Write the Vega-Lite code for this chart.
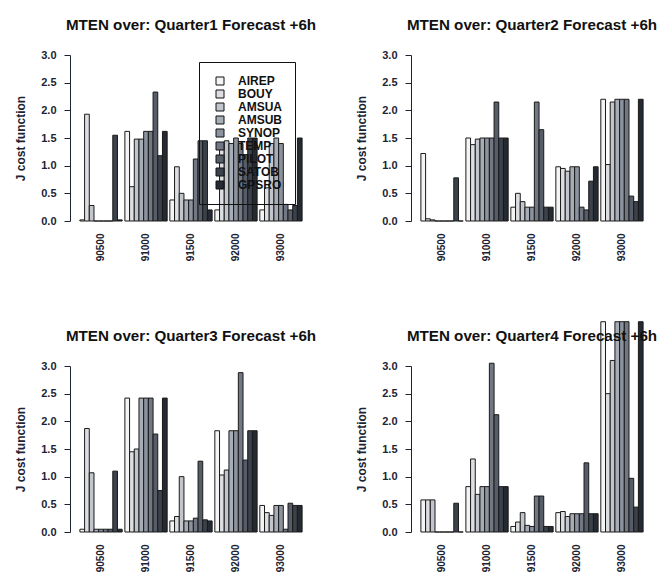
{
  "$schema": "https://vega.github.io/schema/vega-lite/v6.json",
  "background": "white",
  "padding": {"left": 14, "top": 17, "right": 0, "bottom": 0},
  "config": {
    "font": "Liberation Sans",
    "view": {"stroke": null},
    "title": {"fontSize": 15.2, "fontWeight": "bold", "color": "#111", "offset": 16, "anchor": "middle"},
    "axis": {"labelFont": "Liberation Sans", "titleFont": "Liberation Sans", "labelColor": "#1c2433", "titleColor": "#1c2433", "grid": false},
    "axisX": {"labelAngle": -90, "domain": false, "ticks": false, "labelFontSize": 10, "labelFontWeight": "bold", "labelPadding": 12, "labelBaseline": "middle", "labelAlign": "right"},
    "axisY": {"values": [0, 0.5, 1, 1.5, 2, 2.5, 3], "format": ".1f", "labelFontSize": 11, "labelFontWeight": "bold", "titleFontSize": 12, "titleFontWeight": "bold", "domainColor": "#1c2433", "tickColor": "#1c2433", "tickSize": 6, "labelPadding": 8, "titlePadding": 13},
    "bar": {"stroke": "#1a1a1a", "strokeWidth": 1},
    "range": {"category": ["#f4f4f4","#dcdee2","#c2c6cc","#a7adb6","#8c939e","#717884","#565d68","#3c424c","#242932"]}
  },
  "datasets": {
    "j": [
      {"q":"Q1","g":"90500","o":"AIREP","v":0.02},{"q":"Q1","g":"90500","o":"BOUY","v":1.93},{"q":"Q1","g":"90500","o":"AMSUA","v":0.28},{"q":"Q1","g":"90500","o":"AMSUB","v":0},{"q":"Q1","g":"90500","o":"SYNOP","v":0},{"q":"Q1","g":"90500","o":"TEMP","v":0},{"q":"Q1","g":"90500","o":"PILOT","v":0},{"q":"Q1","g":"90500","o":"SATOB","v":1.55},{"q":"Q1","g":"90500","o":"GPSRO","v":0.02},
      {"q":"Q1","g":"91000","o":"AIREP","v":1.62},{"q":"Q1","g":"91000","o":"BOUY","v":0.62},{"q":"Q1","g":"91000","o":"AMSUA","v":1.48},{"q":"Q1","g":"91000","o":"AMSUB","v":1.48},{"q":"Q1","g":"91000","o":"SYNOP","v":1.62},{"q":"Q1","g":"91000","o":"TEMP","v":1.62},{"q":"Q1","g":"91000","o":"PILOT","v":2.33},{"q":"Q1","g":"91000","o":"SATOB","v":1.18},{"q":"Q1","g":"91000","o":"GPSRO","v":1.62},
      {"q":"Q1","g":"91500","o":"AIREP","v":0.38},{"q":"Q1","g":"91500","o":"BOUY","v":0.98},{"q":"Q1","g":"91500","o":"AMSUA","v":0.5},{"q":"Q1","g":"91500","o":"AMSUB","v":0.38},{"q":"Q1","g":"91500","o":"SYNOP","v":0.38},{"q":"Q1","g":"91500","o":"TEMP","v":1.12},{"q":"Q1","g":"91500","o":"PILOT","v":1.45},{"q":"Q1","g":"91500","o":"SATOB","v":1.45},{"q":"Q1","g":"91500","o":"GPSRO","v":0.2},
      {"q":"Q1","g":"92000","o":"AIREP","v":0.2},{"q":"Q1","g":"92000","o":"BOUY","v":1.35},{"q":"Q1","g":"92000","o":"AMSUA","v":1.45},{"q":"Q1","g":"92000","o":"AMSUB","v":1.4},{"q":"Q1","g":"92000","o":"SYNOP","v":1.5},{"q":"Q1","g":"92000","o":"TEMP","v":1.4},{"q":"Q1","g":"92000","o":"PILOT","v":1.2},{"q":"Q1","g":"92000","o":"SATOB","v":1.5},{"q":"Q1","g":"92000","o":"GPSRO","v":1.5},
      {"q":"Q1","g":"93000","o":"AIREP","v":0.2},{"q":"Q1","g":"93000","o":"BOUY","v":0.6},{"q":"Q1","g":"93000","o":"AMSUA","v":1.4},{"q":"Q1","g":"93000","o":"AMSUB","v":1.5},{"q":"Q1","g":"93000","o":"SYNOP","v":1.4},{"q":"Q1","g":"93000","o":"TEMP","v":0.3},{"q":"Q1","g":"93000","o":"PILOT","v":0.2},{"q":"Q1","g":"93000","o":"SATOB","v":0.28},{"q":"Q1","g":"93000","o":"GPSRO","v":1.5},

      {"q":"Q2","g":"90500","o":"AIREP","v":1.22},{"q":"Q2","g":"90500","o":"BOUY","v":0.04},{"q":"Q2","g":"90500","o":"AMSUA","v":0.02},{"q":"Q2","g":"90500","o":"AMSUB","v":0},{"q":"Q2","g":"90500","o":"SYNOP","v":0},{"q":"Q2","g":"90500","o":"TEMP","v":0},{"q":"Q2","g":"90500","o":"PILOT","v":0},{"q":"Q2","g":"90500","o":"SATOB","v":0.78},{"q":"Q2","g":"90500","o":"GPSRO","v":0},
      {"q":"Q2","g":"91000","o":"AIREP","v":1.5},{"q":"Q2","g":"91000","o":"BOUY","v":1.38},{"q":"Q2","g":"91000","o":"AMSUA","v":1.48},{"q":"Q2","g":"91000","o":"AMSUB","v":1.5},{"q":"Q2","g":"91000","o":"SYNOP","v":1.5},{"q":"Q2","g":"91000","o":"TEMP","v":1.5},{"q":"Q2","g":"91000","o":"PILOT","v":2.15},{"q":"Q2","g":"91000","o":"SATOB","v":1.5},{"q":"Q2","g":"91000","o":"GPSRO","v":1.5},
      {"q":"Q2","g":"91500","o":"AIREP","v":0.25},{"q":"Q2","g":"91500","o":"BOUY","v":0.5},{"q":"Q2","g":"91500","o":"AMSUA","v":0.35},{"q":"Q2","g":"91500","o":"AMSUB","v":0.25},{"q":"Q2","g":"91500","o":"SYNOP","v":0.25},{"q":"Q2","g":"91500","o":"TEMP","v":2.15},{"q":"Q2","g":"91500","o":"PILOT","v":1.65},{"q":"Q2","g":"91500","o":"SATOB","v":0.25},{"q":"Q2","g":"91500","o":"GPSRO","v":0.25},
      {"q":"Q2","g":"92000","o":"AIREP","v":0.98},{"q":"Q2","g":"92000","o":"BOUY","v":0.95},{"q":"Q2","g":"92000","o":"AMSUA","v":0.9},{"q":"Q2","g":"92000","o":"AMSUB","v":0.98},{"q":"Q2","g":"92000","o":"SYNOP","v":0.98},{"q":"Q2","g":"92000","o":"TEMP","v":0.25},{"q":"Q2","g":"92000","o":"PILOT","v":0.2},{"q":"Q2","g":"92000","o":"SATOB","v":0.72},{"q":"Q2","g":"92000","o":"GPSRO","v":0.98},
      {"q":"Q2","g":"93000","o":"AIREP","v":2.2},{"q":"Q2","g":"93000","o":"BOUY","v":1.02},{"q":"Q2","g":"93000","o":"AMSUA","v":2.15},{"q":"Q2","g":"93000","o":"AMSUB","v":2.2},{"q":"Q2","g":"93000","o":"SYNOP","v":2.2},{"q":"Q2","g":"93000","o":"TEMP","v":2.2},{"q":"Q2","g":"93000","o":"PILOT","v":0.45},{"q":"Q2","g":"93000","o":"SATOB","v":0.35},{"q":"Q2","g":"93000","o":"GPSRO","v":2.2},

      {"q":"Q3","g":"90500","o":"AIREP","v":0.05},{"q":"Q3","g":"90500","o":"BOUY","v":1.87},{"q":"Q3","g":"90500","o":"AMSUA","v":1.07},{"q":"Q3","g":"90500","o":"AMSUB","v":0.05},{"q":"Q3","g":"90500","o":"SYNOP","v":0.05},{"q":"Q3","g":"90500","o":"TEMP","v":0.05},{"q":"Q3","g":"90500","o":"PILOT","v":0.05},{"q":"Q3","g":"90500","o":"SATOB","v":1.1},{"q":"Q3","g":"90500","o":"GPSRO","v":0.05},
      {"q":"Q3","g":"91000","o":"AIREP","v":2.42},{"q":"Q3","g":"91000","o":"BOUY","v":1.45},{"q":"Q3","g":"91000","o":"AMSUA","v":1.5},{"q":"Q3","g":"91000","o":"AMSUB","v":2.42},{"q":"Q3","g":"91000","o":"SYNOP","v":2.42},{"q":"Q3","g":"91000","o":"TEMP","v":2.42},{"q":"Q3","g":"91000","o":"PILOT","v":1.77},{"q":"Q3","g":"91000","o":"SATOB","v":0.75},{"q":"Q3","g":"91000","o":"GPSRO","v":2.42},
      {"q":"Q3","g":"91500","o":"AIREP","v":0.2},{"q":"Q3","g":"91500","o":"BOUY","v":0.28},{"q":"Q3","g":"91500","o":"AMSUA","v":1.0},{"q":"Q3","g":"91500","o":"AMSUB","v":0.2},{"q":"Q3","g":"91500","o":"SYNOP","v":0.2},{"q":"Q3","g":"91500","o":"TEMP","v":0.25},{"q":"Q3","g":"91500","o":"PILOT","v":1.28},{"q":"Q3","g":"91500","o":"SATOB","v":0.22},{"q":"Q3","g":"91500","o":"GPSRO","v":0.2},
      {"q":"Q3","g":"92000","o":"AIREP","v":1.83},{"q":"Q3","g":"92000","o":"BOUY","v":1.03},{"q":"Q3","g":"92000","o":"AMSUA","v":1.12},{"q":"Q3","g":"92000","o":"AMSUB","v":1.83},{"q":"Q3","g":"92000","o":"SYNOP","v":1.83},{"q":"Q3","g":"92000","o":"TEMP","v":2.88},{"q":"Q3","g":"92000","o":"PILOT","v":1.3},{"q":"Q3","g":"92000","o":"SATOB","v":1.83},{"q":"Q3","g":"92000","o":"GPSRO","v":1.83},
      {"q":"Q3","g":"93000","o":"AIREP","v":0.48},{"q":"Q3","g":"93000","o":"BOUY","v":0.35},{"q":"Q3","g":"93000","o":"AMSUA","v":0.3},{"q":"Q3","g":"93000","o":"AMSUB","v":0.48},{"q":"Q3","g":"93000","o":"SYNOP","v":0.48},{"q":"Q3","g":"93000","o":"TEMP","v":0.05},{"q":"Q3","g":"93000","o":"PILOT","v":0.52},{"q":"Q3","g":"93000","o":"SATOB","v":0.48},{"q":"Q3","g":"93000","o":"GPSRO","v":0.48},

      {"q":"Q4","g":"90500","o":"AIREP","v":0.58},{"q":"Q4","g":"90500","o":"BOUY","v":0.58},{"q":"Q4","g":"90500","o":"AMSUA","v":0.58},{"q":"Q4","g":"90500","o":"AMSUB","v":0},{"q":"Q4","g":"90500","o":"SYNOP","v":0},{"q":"Q4","g":"90500","o":"TEMP","v":0},{"q":"Q4","g":"90500","o":"PILOT","v":0},{"q":"Q4","g":"90500","o":"SATOB","v":0.52},{"q":"Q4","g":"90500","o":"GPSRO","v":0},
      {"q":"Q4","g":"91000","o":"AIREP","v":0.82},{"q":"Q4","g":"91000","o":"BOUY","v":1.32},{"q":"Q4","g":"91000","o":"AMSUA","v":0.68},{"q":"Q4","g":"91000","o":"AMSUB","v":0.82},{"q":"Q4","g":"91000","o":"SYNOP","v":0.82},{"q":"Q4","g":"91000","o":"TEMP","v":3.05},{"q":"Q4","g":"91000","o":"PILOT","v":2.12},{"q":"Q4","g":"91000","o":"SATOB","v":0.82},{"q":"Q4","g":"91000","o":"GPSRO","v":0.82},
      {"q":"Q4","g":"91500","o":"AIREP","v":0.1},{"q":"Q4","g":"91500","o":"BOUY","v":0.18},{"q":"Q4","g":"91500","o":"AMSUA","v":0.35},{"q":"Q4","g":"91500","o":"AMSUB","v":0.12},{"q":"Q4","g":"91500","o":"SYNOP","v":0.1},{"q":"Q4","g":"91500","o":"TEMP","v":0.65},{"q":"Q4","g":"91500","o":"PILOT","v":0.65},{"q":"Q4","g":"91500","o":"SATOB","v":0.1},{"q":"Q4","g":"91500","o":"GPSRO","v":0.1},
      {"q":"Q4","g":"92000","o":"AIREP","v":0.35},{"q":"Q4","g":"92000","o":"BOUY","v":0.37},{"q":"Q4","g":"92000","o":"AMSUA","v":0.28},{"q":"Q4","g":"92000","o":"AMSUB","v":0.33},{"q":"Q4","g":"92000","o":"SYNOP","v":0.33},{"q":"Q4","g":"92000","o":"TEMP","v":0.33},{"q":"Q4","g":"92000","o":"PILOT","v":1.25},{"q":"Q4","g":"92000","o":"SATOB","v":0.33},{"q":"Q4","g":"92000","o":"GPSRO","v":0.33},
      {"q":"Q4","g":"93000","o":"AIREP","v":3.8},{"q":"Q4","g":"93000","o":"BOUY","v":2.5},{"q":"Q4","g":"93000","o":"AMSUA","v":3.1},{"q":"Q4","g":"93000","o":"AMSUB","v":3.8},{"q":"Q4","g":"93000","o":"SYNOP","v":3.8},{"q":"Q4","g":"93000","o":"TEMP","v":3.8},{"q":"Q4","g":"93000","o":"PILOT","v":0.97},{"q":"Q4","g":"93000","o":"SATOB","v":0.45},{"q":"Q4","g":"93000","o":"GPSRO","v":3.8}
    ]
  },
  "data": {"name": "j"},
  "vconcat": [
    {
      "hconcat": [
        {
          "title": "MTEN over: Quarter1 Forecast +6h",
          "width": 242, "height": 166,
          "transform": [{"filter": {"field": "q", "equal": "Q1"}}],
          "mark": "bar",
          "encoding": {
            "x": {"field": "g", "type": "nominal", "sort": null, "title": null, "scale": {"paddingInner": 0.06, "paddingOuter": 0.22}},
            "xOffset": {"field": "o", "type": "nominal", "sort": null, "scale": {"paddingInner": 0}},
            "y": {"field": "v", "type": "quantitative", "title": "J cost function", "scale": {"domain": [0, 3], "nice": false}},
            "color": {"field": "o", "type": "nominal", "sort": null,
                      "legend": {"title": null, "orient": "none", "legendX": 129, "legendY": 7, "symbolType": "square", "symbolSize": 64, "symbolStrokeColor": "#111", "symbolStrokeWidth": 1.5, "labelFontSize": 12, "labelFontWeight": "bold", "labelColor": "#111", "strokeColor": "#111", "padding": 13, "rowPadding": 1, "labelOffset": 12, "symbolOffset": 2}}
          }
        },
        {
          "title": "MTEN over: Quarter2 Forecast +6h",
          "width": 242, "height": 166,
          "transform": [{"filter": {"field": "q", "equal": "Q2"}}],
          "mark": "bar",
          "encoding": {
            "x": {"field": "g", "type": "nominal", "sort": null, "title": null, "scale": {"paddingInner": 0.06, "paddingOuter": 0.22}},
            "xOffset": {"field": "o", "type": "nominal", "sort": null, "scale": {"paddingInner": 0}},
            "y": {"field": "v", "type": "quantitative", "title": "J cost function", "scale": {"domain": [0, 3], "nice": false}},
            "color": {"field": "o", "type": "nominal", "sort": null, "legend": null}
          }
        }
      ],
      "spacing": 38,
      "resolve": {"legend": {"color": "independent"}}
    },
    {
      "hconcat": [
        {
          "title": "MTEN over: Quarter3 Forecast +6h",
          "width": 242, "height": 166,
          "transform": [{"filter": {"field": "q", "equal": "Q3"}}],
          "mark": "bar",
          "encoding": {
            "x": {"field": "g", "type": "nominal", "sort": null, "title": null, "scale": {"paddingInner": 0.06, "paddingOuter": 0.22}},
            "xOffset": {"field": "o", "type": "nominal", "sort": null, "scale": {"paddingInner": 0}},
            "y": {"field": "v", "type": "quantitative", "title": "J cost function", "scale": {"domain": [0, 3], "nice": false}},
            "color": {"field": "o", "type": "nominal", "sort": null, "legend": null}
          }
        },
        {
          "title": {"text": "MTEN over: Quarter4 Forecast +6h", "offset": -23},
          "width": 242, "height": 166,
          "transform": [{"filter": {"field": "q", "equal": "Q4"}}],
          "mark": "bar",
          "encoding": {
            "x": {"field": "g", "type": "nominal", "sort": null, "title": null, "scale": {"paddingInner": 0.06, "paddingOuter": 0.22}},
            "xOffset": {"field": "o", "type": "nominal", "sort": null, "scale": {"paddingInner": 0}},
            "y": {"field": "v", "type": "quantitative", "title": "J cost function", "scale": {"domain": [0, 3], "nice": false}},
            "color": {"field": "o", "type": "nominal", "sort": null, "legend": null}
          }
        }
      ],
      "spacing": 38,
      "resolve": {"legend": {"color": "independent"}}
    }
  ],
  "resolve": {"legend": {"color": "independent"}},
  "spacing": 60
}
